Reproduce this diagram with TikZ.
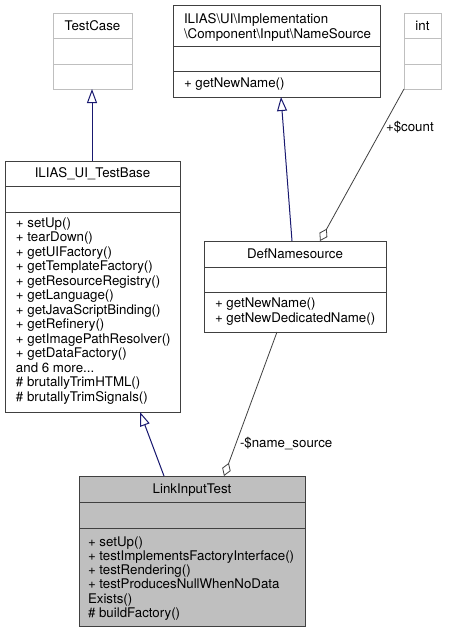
\documentclass[tikz,border=0pt]{standalone}
\usepackage{fontspec}
\setmainfont{TeX Gyre Heros}
\usetikzlibrary{arrows.meta}
\definecolor{bord}{HTML}{404040}
\definecolor{ghostc}{HTML}{BFBFBF}
\definecolor{navyc}{HTML}{191970}
\definecolor{hilite}{HTML}{BFBFBF}
\newcommand{\dia}{\fontsize{13.3}{14.4}\selectfont}
\newcommand{\threedots}{...}
\tikzset{
  cls/.style={draw=bord, line width=1pt, inner sep=0pt, outer sep=0pt, anchor=north west, fill=white},
  ghost/.style={cls, draw=ghostc},
  sep/.style={draw=bord, line width=1pt},
  gsep/.style={draw=ghostc, line width=1pt},
  txt/.style={inner sep=0pt, outer sep=0pt, anchor=base west, font=\dia},
  ttl/.style={inner sep=0pt, outer sep=0pt, anchor=base, font=\dia},
  inh/.style={draw=navyc, line width=1pt, -{Triangle[open, length=14pt, width=10pt]}},
  agg/.style={draw=bord, line width=0.8pt, {Diamond[open, length=14pt, width=9pt]}-},
  lbl/.style={inner sep=0pt, outer sep=0pt, anchor=base west, font=\dia},
}
\begin{document}
\begin{tikzpicture}[x=1pt, y=-1pt]
\useasboundingbox[fill=white] (0,0) rectangle (448,632);

% TestCase
\node[ghost, minimum width=79pt, minimum height=76pt] (tc) at (53,13) {};
\draw[gsep] (tc.west |- 0,38) -- (tc.east |- 0,38);
\draw[gsep] (tc.west |- 0,64) -- (tc.east |- 0,64);
\node[ttl] (tct) at (92.5,30) {TestCase};

% NameSource interface
\node[cls, minimum width=207pt, minimum height=92pt] (ns) at (173,5) {};
\draw[sep] (ns.west |- 0,46) -- (ns.east |- 0,46);
\draw[sep] (ns.west |- 0,71) -- (ns.east |- 0,71);
\node[txt] (nst1) at (184,23) {ILIAS\textbackslash UI\textbackslash Implementation};
\node[txt] (nst2) at (184,38) {\textbackslash Component\textbackslash Input\textbackslash NameSource};
\node[txt] (nsm1) at (184,87) {+ getNewName()};

% int
\node[ghost, minimum width=37pt, minimum height=76pt] (int) at (404,13) {};
\draw[gsep] (int.west |- 0,38) -- (int.east |- 0,38);
\draw[gsep] (int.west |- 0,64) -- (int.east |- 0,64);
\node[ttl] (intt) at (422.5,30) {int};

% ILIAS_UI_TestBase
\node[cls, minimum width=175pt, minimum height=251pt] (tb) at (5,161) {};
\draw[sep] (tb.west |- 0,186) -- (tb.east |- 0,186);
\draw[sep] (tb.west |- 0,212) -- (tb.east |- 0,212);
\node[ttl] (tbt) at (92.5,177) {ILIAS\_UI\_TestBase};
\foreach \t [count=\i] in {{+ setUp()}, {+ tearDown()}, {+ getUIFactory()}, {+ getTemplateFactory()},
  {+ getResourceRegistry()}, {+ getLanguage()}, {+ getJavaScriptBinding()}, {+ getRefinery()},
  {+ getImagePathResolver()}, {+ getDataFactory()}, {and 6 more\threedots}, {\# brutallyTrimHTML()},
  {\# brutallyTrimSignals()}}
  \node[txt] (tbm\i) at (16, 227+14.5*\i-14.5) {\t};

% DefNamesource
\node[cls, minimum width=182pt, minimum height=91pt] (dn) at (204,241) {};
\draw[sep] (dn.west |- 0,267) -- (dn.east |- 0,267);
\draw[sep] (dn.west |- 0,292) -- (dn.east |- 0,292);
\node[ttl] (dnt) at (295,258) {DefNamesource};
\node[txt] (dnm1) at (215,307) {+ getNewName()};
\node[txt] (dnm2) at (215,322) {+ getNewDedicatedName()};

% LinkInputTest
\node[cls, fill=hilite, minimum width=226pt, minimum height=150pt] (lt) at (79,476) {};
\draw[sep] (lt.west |- 0,502) -- (lt.east |- 0,502);
\draw[sep] (lt.west |- 0,528) -- (lt.east |- 0,528);
\node[ttl] (ltt) at (192,493) {LinkInputTest};
\foreach \t [count=\i] in {{+ setUp()}, {+ testImplementsFactoryInterface()}, {+ testRendering()},
  {+ testProducesNullWhenNoData}, {Exists()}, {\# buildFactory()}}
  \node[txt] (ltm\i) at (88, 546+14.3*\i-14.3) {\t};

% connectors
\draw[inh] (tb.north -| 92,0) -- (tc.south -| 92,0);
\draw[inh] (dn.north -| 292,0) -- (ns.south -| 281,0);
\draw[inh] (lt.north -| 164,0) -- (tb.south -| 140,0);
\draw[agg] (dn.north -| 320,0) -- (int.south west);
\draw[agg] (lt.north -| 224,0) -- (dn.south -| 277,0);

\node[lbl] (lcount) at (386,131) {+\$count};
\node[lbl] (lname) at (240,447) {-\$name\_source};
\end{tikzpicture}
\end{document}
